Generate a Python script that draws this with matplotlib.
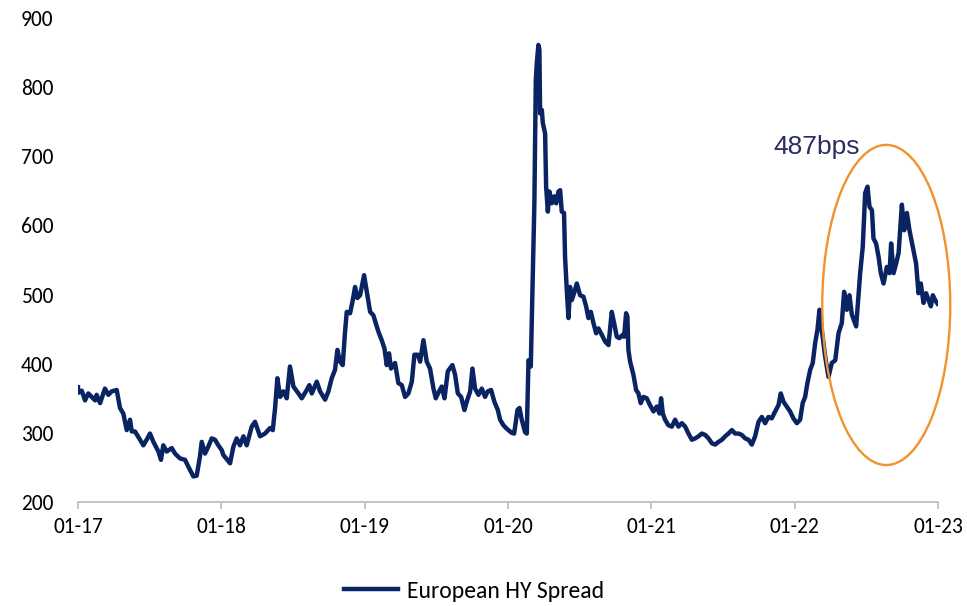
import matplotlib
matplotlib.use("Agg")
import matplotlib.pyplot as plt
from matplotlib import font_manager
from matplotlib.patches import Ellipse

# European high-yield spread (bps), time as years since Jan 2017
t_years = [
    0.000, 0.002, 0.026, 0.049, 0.072, 0.095, 0.119, 0.130, 0.154, 0.188,
    0.212, 0.235, 0.270, 0.293, 0.316, 0.340, 0.363, 0.375, 0.398, 0.433,
    0.456, 0.479, 0.502, 0.526, 0.561, 0.579, 0.595, 0.619, 0.654, 0.677,
    0.712, 0.747, 0.770, 0.805, 0.828, 0.851, 0.863, 0.886, 0.909, 0.933,
    0.956, 0.979, 1.003, 1.014, 1.061, 1.084, 1.107, 1.130, 1.154, 1.177,
    1.212, 1.235, 1.270, 1.305, 1.340, 1.359, 1.375, 1.391, 1.410, 1.433,
    1.456, 1.479, 1.503, 1.538, 1.561, 1.596, 1.614, 1.631, 1.666, 1.689,
    1.724, 1.747, 1.770, 1.793, 1.810, 1.828, 1.847, 1.863, 1.875, 1.898,
    1.917, 1.933, 1.949, 1.968, 1.996, 2.021, 2.038, 2.061, 2.084, 2.100,
    2.119, 2.138, 2.154, 2.170, 2.184, 2.212, 2.235, 2.259, 2.282, 2.305,
    2.329, 2.347, 2.371, 2.387, 2.410, 2.433, 2.456, 2.480, 2.496, 2.519,
    2.538, 2.557, 2.580, 2.612, 2.631, 2.650, 2.673, 2.696, 2.712, 2.736,
    2.752, 2.770, 2.794, 2.817, 2.840, 2.859, 2.882, 2.905, 2.929, 2.945,
    2.968, 2.991, 3.026, 3.043, 3.066, 3.080, 3.096, 3.119, 3.131, 3.143,
    3.159, 3.173, 3.184, 3.194, 3.201, 3.212, 3.219, 3.224, 3.236, 3.243,
    3.259, 3.266, 3.278, 3.289, 3.306, 3.322, 3.336, 3.352, 3.364, 3.375,
    3.391, 3.398, 3.410, 3.422, 3.433, 3.445, 3.461, 3.480, 3.503, 3.526,
    3.545, 3.561, 3.578, 3.596, 3.615, 3.631, 3.654, 3.678, 3.701, 3.724,
    3.740, 3.759, 3.777, 3.801, 3.810, 3.824, 3.833, 3.840, 3.852, 3.875,
    3.894, 3.910, 3.926, 3.945, 3.968, 3.991, 4.015, 4.038, 4.057, 4.068,
    4.080, 4.096, 4.119, 4.143, 4.166, 4.189, 4.213, 4.236, 4.259, 4.283,
    4.306, 4.329, 4.352, 4.376, 4.399, 4.422, 4.445, 4.469, 4.492, 4.515,
    4.538, 4.562, 4.585, 4.608, 4.631, 4.655, 4.678, 4.701, 4.724, 4.748,
    4.771, 4.794, 4.817, 4.840, 4.864, 4.887, 4.903, 4.922, 4.945, 4.968,
    4.991, 5.015, 5.038, 5.056, 5.073, 5.089, 5.108, 5.126, 5.143, 5.159,
    5.173, 5.189, 5.213, 5.236, 5.259, 5.283, 5.306, 5.329, 5.345, 5.364,
    5.382, 5.399, 5.429, 5.457, 5.475, 5.492, 5.508, 5.522, 5.539, 5.550,
    5.568, 5.585, 5.601, 5.620, 5.643, 5.662, 5.673, 5.690, 5.708, 5.725,
    5.748, 5.764, 5.783, 5.801, 5.824, 5.847, 5.864, 5.880, 5.899, 5.917,
    5.934, 5.950, 5.964, 5.980, 5.996,
]
spread_bps = [
    366, 358, 361, 347, 357, 352, 347, 355, 343, 364,
    355, 360, 362, 336, 328, 304, 319, 302, 302, 290,
    282, 290, 299, 287, 273, 261, 282, 273, 278, 270,
    263, 261, 251, 237, 238, 266, 287, 270, 280, 292,
    290, 282, 275, 268, 256, 280, 292, 282, 295, 282,
    309, 316, 295, 299, 307, 304, 336, 379, 352, 360,
    350, 396, 367, 357, 350, 362, 369, 357, 374, 360,
    348, 360, 379, 391, 420, 403, 398, 446, 475, 473,
    492, 511, 495, 499, 528, 497, 475, 470, 454, 444,
    434, 422, 398, 415, 393, 401, 372, 369, 352, 357,
    374, 413, 413, 403, 434, 403, 393, 364, 350, 360,
    367, 350, 389, 398, 384, 357, 352, 333, 345, 360,
    393, 364, 355, 364, 352, 360, 362, 345, 333, 319,
    311, 306, 300, 299, 333, 336, 319, 301, 299, 405,
    396, 531, 632, 810, 835, 861, 854, 762, 767, 748,
    733, 656, 620, 649, 632, 642, 632, 649, 651, 620,
    618, 555, 507, 466, 511, 492, 502, 516, 499, 497,
    483, 466, 475, 459, 444, 451, 442, 432, 427, 475,
    459, 439, 437, 442, 439, 473, 468, 420, 403, 384,
    362, 357, 343, 352, 350, 340, 331, 338, 328, 350,
    328, 319, 311, 309, 319, 309, 314, 309, 299, 290,
    292, 295, 299, 297, 292, 285, 283, 287, 290, 295,
    299, 304, 299, 299, 297, 292, 290, 283, 295, 316,
    323, 314, 323, 321, 331, 340, 357, 345, 338, 331,
    321, 314, 319, 343, 352, 372, 391, 401, 430, 449,
    478, 449, 410, 381, 401, 405, 444, 459, 504, 478,
    499, 471, 454, 531, 569, 647, 656, 627, 622, 581,
    574, 555, 531, 516, 540, 531, 574, 531, 545, 560,
    630, 593, 618, 593, 569, 545, 502, 516, 488, 502,
    492, 483, 499, 492, 487,
]

x_tick_pos = [0, 1, 2, 3, 4, 5, 6]
x_tick_labels = ["01-17", "01-18", "01-19", "01-20", "01-21", "01-22", "01-23"]
y_ticks = [200, 300, 400, 500, 600, 700, 800, 900]
series_label = "European HY Spread"
callout_text = "487bps"

NAVY = "#0A2463"
ORANGE = "#F0922E"
AXIS_GREY = "#BFBFBF"


def pick_font(candidates):
    names = {f.name for f in font_manager.fontManager.ttflist}
    for c in candidates:
        if c in names:
            return c
    return "DejaVu Sans"


tick_font = pick_font(["Carlito", "Liberation Sans Narrow", "Open Sans", "DejaVu Sans"])
callout_font = pick_font(["Liberation Sans", "DejaVu Sans"])

fig = plt.figure(figsize=(9.67, 6.06), dpi=100)
ax = fig.add_axes([78 / 967, 1 - 502 / 606, (938 - 78) / 967, (502 - 18) / 606])

ax.plot(t_years, spread_bps, color=NAVY, lw=3.2, solid_joinstyle="round",
        label=series_label)

ax.set_xlim(0, 6)
ax.set_ylim(200, 900)
ax.set_xticks(x_tick_pos)
ax.set_xticklabels(x_tick_labels, fontfamily=tick_font, fontsize=15.5)
ax.set_yticks(y_ticks)
ax.set_yticklabels([str(v) for v in y_ticks], fontfamily=tick_font, fontsize=15.5)

for side in ("top", "right", "left"):
    ax.spines[side].set_visible(False)
ax.spines["bottom"].set_color(AXIS_GREY)
ax.spines["bottom"].set_linewidth(1.3)
ax.tick_params(axis="x", direction="out", length=5, width=1.3, color=AXIS_GREY,
               pad=6, labelcolor="black")
ax.tick_params(axis="y", length=0, pad=18, labelcolor="black")

# Highlight of the 2022 widening
ax.add_patch(Ellipse((5.639, 485), width=0.893, height=463, fill=False,
                     edgecolor=ORANGE, lw=1.7, zorder=3, clip_on=False))
ax.text(4.85, 713, callout_text, color="#2B2D63", fontsize=19,
        fontfamily=callout_font, ha="left", va="center")

leg = fig.legend(loc="center", bbox_to_anchor=(474 / 967, 1 - 591 / 606),
                 frameon=False, prop={"family": tick_font, "size": 17},
                 handlelength=2.3, handletextpad=0.4)

fig.savefig("out.png", dpi=100)
